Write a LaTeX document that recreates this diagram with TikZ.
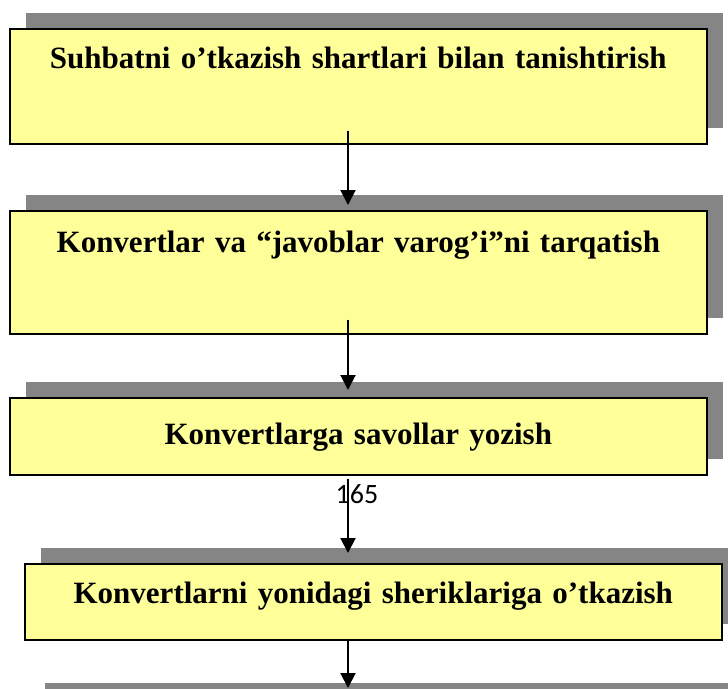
\documentclass[tikz,border=0pt]{standalone}
\usepackage{fontspec}
\setmainfont{Liberation Serif}
\newfontfamily\pagefont{Carlito}
\usetikzlibrary{arrows.meta, shadows}

\definecolor{boxyellow}{RGB}{255,255,153}
\tikzset{
  stepbox/.style={draw=black, line width=1.6pt, fill=boxyellow, inner sep=0pt,
    anchor=north west, align=center, text height=39.7pt,
    font=\bfseries\fontsize{31}{36}\selectfont,
    drop shadow={shadow xshift=16pt, shadow yshift=16pt, fill=black!48, opacity=1}},
  flow/.style={-{Triangle[width=15pt, length=15pt]}, line width=2pt}
}

\begin{document}
\begin{tikzpicture}[x=1pt, y=-1pt]
\useasboundingbox (0,0) rectangle (728,688);
\clip (0,0) rectangle (728,688);
% steps
\node[stepbox, text width=697pt, text depth=75.3pt] (b1) at (9,28)
  {Suhbatni o’tkazish shartlari bilan tanishtirish};
\node[stepbox, text width=697pt, text depth=81.3pt, text height=41.7pt] (b2) at (9,210)
  {Konvertlar va “javoblar varog’i”ni tarqatish};
\node[stepbox, text width=697pt, text depth=30pt, text height=47pt] (b3) at (9,397)
  {Konvertlarga savollar yozish};
\node[stepbox, text width=697pt, text depth=36.3pt] (b4) at (24,563)
  {Konvertlarni yonidagi sheriklariga o’tkazish};
\node[stepbox, text width=697pt, text depth=60pt] (b5) at (28,698) {};
% page number
\node[font=\pagefont\fontsize{28}{30}\selectfont, inner sep=0pt] (pnum) at (357,494) {165};
% arrows
\coordinate (ax) at (348,0);
\draw[flow] ([yshift=14pt]b1.south -| ax) -- ([yshift=5pt]b2.north -| ax);
\draw[flow] ([yshift=15pt]b2.south -| ax) -- ([yshift=7pt]b3.north -| ax);
\draw[flow] ([yshift=-3pt]b3.south -| ax) -- ([yshift=10pt]b4.north -| ax);
\draw[flow] (b4.south -| ax) -- ([yshift=10pt]b5.north -| ax);
\end{tikzpicture}
\end{document}
